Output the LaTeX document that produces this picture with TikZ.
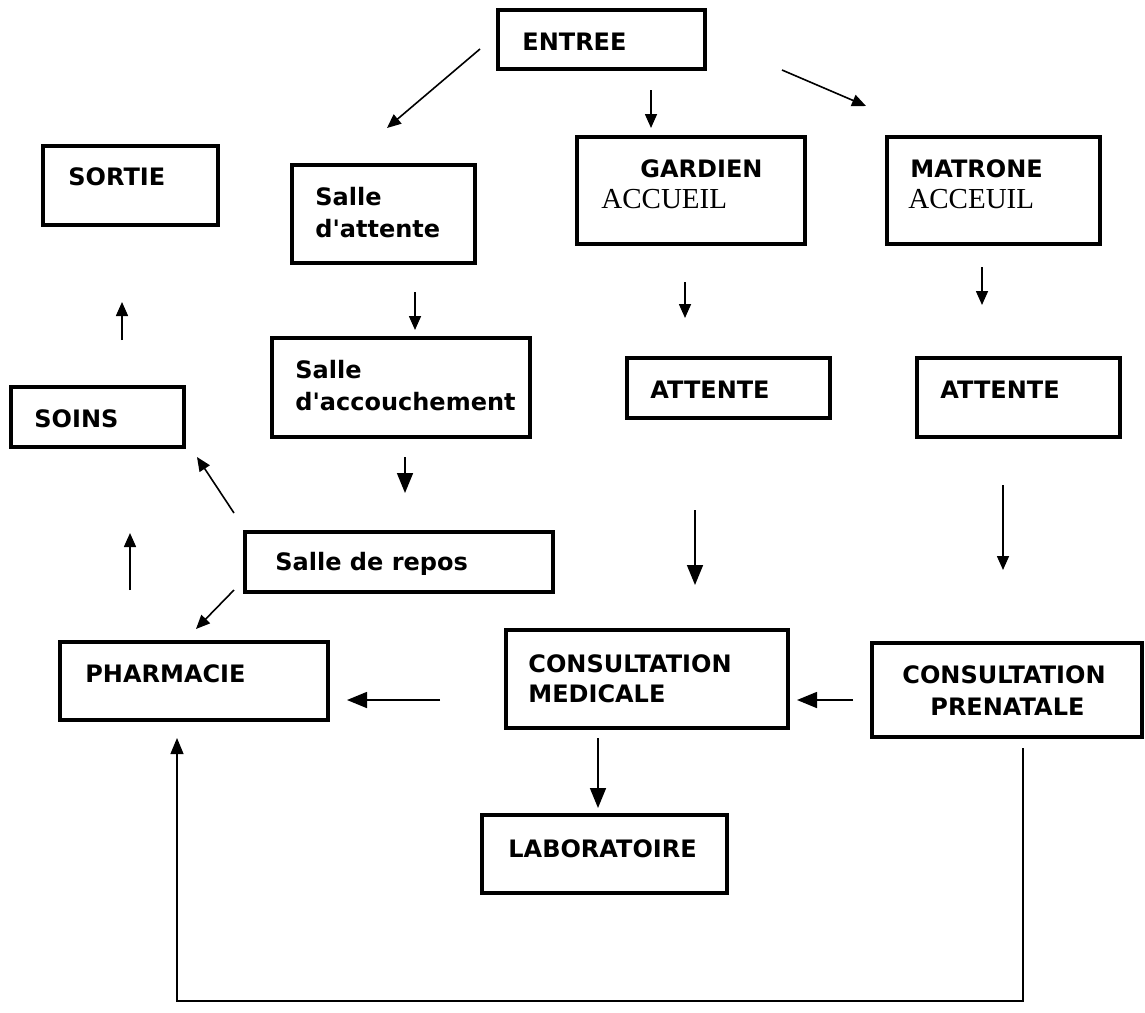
\documentclass[tikz,border=0pt]{standalone}
\usepackage{fontspec}
\setmainfont{DejaVu Sans}
\newfontfamily\serifacc{Liberation Serif}
\usetikzlibrary{arrows.meta,fit}
\begin{document}
\begin{tikzpicture}[x=0.5pt,y=-0.5pt,
  box/.style={draw, line width=1.8pt, inner sep=0pt},
  lbl/.style={anchor=base west, inner sep=0pt, font=\fontsize{12}{14}\selectfont\bfseries},
  slbl/.style={anchor=base west, inner sep=0pt, font=\serifacc\fontsize{14.5}{16}\selectfont},
  arr/.style={line width=0.8pt, -{Triangle[length=7pt,width=6pt]}},
  arrB/.style={line width=0.8pt, -{Triangle[length=10pt,width=8pt]}},
  thin/.style={line width=0.6pt}]
\useasboundingbox (0,0) rectangle (1145,1012);
% boxes
\node[box, fit={(498,10)(705,69)}] (ent) {};
\node[box, fit={(43,146)(218,225)}] (sor) {};
\node[box, fit={(292,165)(475,263)}] (sat) {};
\node[box, fit={(577,137)(805,244)}] (gar) {};
\node[box, fit={(887,137)(1100,244)}] (mat) {};
\node[box, fit={(272,338)(530,437)}] (acc) {};
\node[box, fit={(627,358)(830,418)}] (at1) {};
\node[box, fit={(917,358)(1120,437)}] (at2) {};
\node[box, fit={(11,387)(184,447)}] (soi) {};
\node[box, fit={(245,532)(553,592)}] (rep) {};
\node[box, fit={(60,642)(328,720)}] (pha) {};
\node[box, fit={(506,630)(788,728)}] (cm) {};
\node[box, fit={(872,643)(1142,737)}] (cp) {};
\node[box, fit={(482,815)(727,893)}] (lab) {};
% labels
\node[lbl] (tent) at (522,50) {ENTREE};
\node[lbl] (tsor) at (68,185) {SORTIE};
\node[lbl] (tsat1) at (315,205) {Salle};
\node[lbl] (tsat2) at (315,237) {d\textquotesingle attente};
\node[lbl] (tgar1) at (640,177) {GARDIEN};
\node[slbl] (tgar2) at (601,208) {ACCUEIL};
\node[lbl] (tmat1) at (910,177) {MATRONE};
\node[slbl] (tmat2) at (908,208) {ACCEUIL};
\node[lbl] (tacc1) at (295,378) {Salle};
\node[lbl] (tacc2) at (295,410) {d\textquotesingle accouchement};
\node[lbl] (tat1) at (650,398) {ATTENTE};
\node[lbl] (tat2) at (940,398) {ATTENTE};
\node[lbl] (tsoi) at (34,427) {SOINS};
\node[lbl] (trep) at (275,570) {Salle de repos};
\node[lbl] (tpha) at (85,682) {PHARMACIE};
\node[lbl] (tcm1) at (528,672) {CONSULTATION};
\node[lbl] (tcm2) at (528,702) {MEDICALE};
\node[lbl] (tcp1) at (902,683) {CONSULTATION};
\node[lbl] (tcp2) at (930,715) {PRENATALE};
\node[lbl] (tlab) at (508,857) {LABORATOIRE};
% arrow end points
\coordinate (a1s) at (480,49);  \coordinate (a1e) at (387,128);
\coordinate (a2s) at (651,90);  \coordinate (a2e) at (651,128);
\coordinate (a3s) at (782,70);  \coordinate (a3e) at (866,106);
\coordinate (a4s) at (415,292); \coordinate (a4e) at (415,330);
\coordinate (a5s) at (685,282); \coordinate (a5e) at (685,318);
\coordinate (a6s) at (982,267); \coordinate (a6e) at (982,305);
\coordinate (a7s) at (122,340); \coordinate (a7e) at (122,302);
\coordinate (a8s) at (405,457); \coordinate (a8e) at (405,493);
\coordinate (a9s) at (234,513); \coordinate (a9e) at (197,457);
\coordinate (a10s) at (130,590); \coordinate (a10e) at (130,533);
\coordinate (a11s) at (234,590); \coordinate (a11e) at (196,629);
\coordinate (a12s) at (695,510); \coordinate (a12e) at (695,585);
\coordinate (a13s) at (1003,485); \coordinate (a13e) at (1003,570);
\coordinate (a14s) at (440,700); \coordinate (a14e) at (347,700);
\coordinate (a15s) at (853,700); \coordinate (a15e) at (797,700);
\coordinate (a16s) at (598,738); \coordinate (a16e) at (598,808);
\coordinate (l1) at (1023,748); \coordinate (l2) at (1023,1001);
\coordinate (l3) at (177,1001); \coordinate (l4) at (177,738);
% arrows
\draw[arr] (a1s) -- (a1e);
\draw[arr] (a2s) -- (a2e);
\draw[arr] (a3s) -- (a3e);
\draw[arr] (a4s) -- (a4e);
\draw[arr] (a5s) -- (a5e);
\draw[arr] (a6s) -- (a6e);
\draw[arr] (a7s) -- (a7e);
\draw[arrB] (a8s) -- (a8e);
\draw[arr] (a9s) -- (a9e);
\draw[arr] (a10s) -- (a10e);
\draw[arr] (a11s) -- (a11e);
\draw[arrB] (a12s) -- (a12e);
\draw[arr] (a13s) -- (a13e);
\draw[arrB] (a14s) -- (a14e);
\draw[arrB] (a15s) -- (a15e);
\draw[arrB] (a16s) -- (a16e);
\draw[thin, -{Triangle[length=8pt,width=6.5pt]}] (l1) -- (l2) -- (l3) -- (l4);
\end{tikzpicture}
\end{document}
